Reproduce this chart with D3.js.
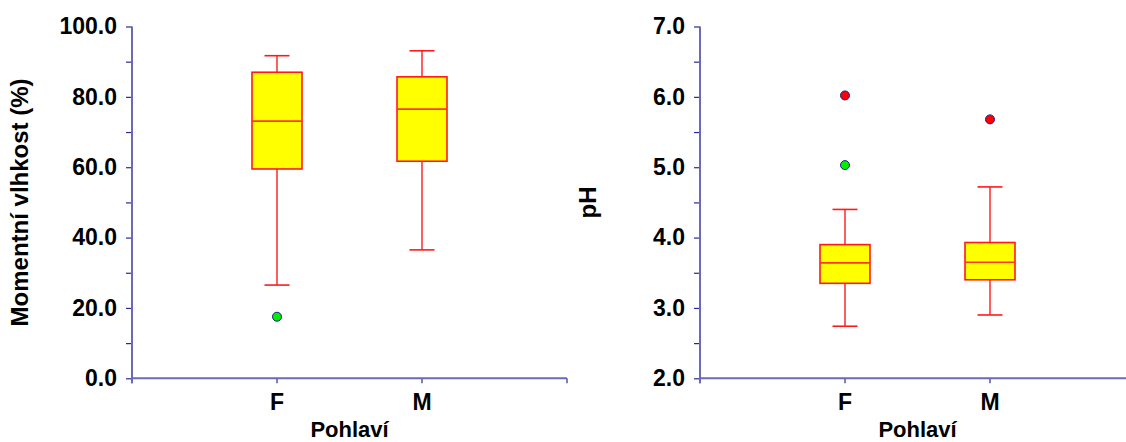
<!DOCTYPE html>
<html>
<head>
<meta charset="utf-8">
<script src="https://cdn.jsdelivr.net/npm/d3@7"></script>
<style>
  html, body { margin: 0; padding: 0; background: #fff; }
  svg { display: block; font-family: "Liberation Sans", Arial, sans-serif; }
</style>
</head>
<body>
<svg id="chart" width="1126" height="442"></svg>
<script>
// Categories shared by both panels
const categories = ["F", "M"];
const xTitle = "Pohlaví";

// Panel 1: Momentní vlhkost (%)
const moistTitle = "Momentní vlhkost (%)";
const moistTicks = [0, 20, 40, 60, 80, 100];
const moistWhiskerLow = [26.5, 36.5];
const moistQ1 = [59.5, 61.7];
const moistMedian = [73.1, 76.5];
const moistQ3 = [87.0, 85.7];
const moistWhiskerHigh = [91.7, 93.1];
const moistOutliers = [
  { cat: "F", value: 17.5, kind: "near" }
];

// Panel 2: pH
const phTitle = "pH";
const phTicks = [2, 3, 4, 5, 6, 7];
const phWhiskerLow = [2.74, 2.90];
const phQ1 = [3.35, 3.40];
const phMedian = [3.64, 3.65];
const phQ3 = [3.90, 3.93];
const phWhiskerHigh = [4.40, 4.72];
const phOutliers = [
  { cat: "F", value: 6.02, kind: "far" },
  { cat: "F", value: 5.03, kind: "near" },
  { cat: "M", value: 5.68, kind: "far" }
];

const svg = d3.select("#chart");
const fmt = d3.format(".1f");
const axisColor = "#6a6ab8";
const tickColor = "#2a2a90";
const boxStroke = "#ff1a1a";
const outlierFill = { near: "#00ee00", far: "#ff0000" };

function drawPanel(cfg) {
  const x = d3.scalePoint().domain(categories).range(cfg.xRange).padding(1);
  const y = d3.scaleLinear().domain(d3.extent(cfg.ticks)).range(cfg.yRange);
  const g = svg.append("g");

  const step = cfg.ticks[1] - cfg.ticks[0];
  const minor = cfg.ticks.slice(0, -1).map(t => t + step / 2);

  // minor ticks
  const yMinor = g.append("g")
    .attr("transform", `translate(${cfg.xRange[0]},0)`)
    .call(d3.axisLeft(y).tickValues(minor).tickSize(6).tickSizeOuter(0).tickFormat(""));
  yMinor.select(".domain").remove();

  // major ticks + labels
  const yAxis = g.append("g")
    .attr("transform", `translate(${cfg.xRange[0]},0)`)
    .call(d3.axisLeft(y).tickValues(cfg.ticks).tickSize(6).tickSizeOuter(0).tickPadding(9).tickFormat(fmt));
  yAxis.select(".domain").remove();
  [yMinor, yAxis].forEach(a => a.selectAll(".tick line").attr("stroke", tickColor).attr("stroke-width", 1.2));
  yAxis.selectAll(".tick text")
    .attr("fill", "#000").attr("font-size", 23).attr("font-weight", "bold")
    .attr("font-family", "'Liberation Sans', Arial, sans-serif");

  // x axis ticks at categories and both ends of the axis
  const xTickVals = [x.range()[0], ...categories.map(c => x(c)), x.range()[1]];
  g.append("g").selectAll("line").data(xTickVals).join("line")
    .attr("x1", d => d).attr("x2", d => d)
    .attr("y1", cfg.yRange[0]).attr("y2", cfg.yRange[0] + 5)
    .attr("stroke", tickColor).attr("stroke-width", 1.2);

  // axis lines
  g.append("line")
    .attr("x1", cfg.xRange[0]).attr("x2", cfg.xRange[0])
    .attr("y1", cfg.yRange[1]).attr("y2", cfg.yRange[0] + 5)
    .attr("stroke", axisColor).attr("stroke-width", 2);
  g.append("line")
    .attr("x1", cfg.xRange[0]).attr("x2", cfg.xRange[1])
    .attr("y1", cfg.yRange[0]).attr("y2", cfg.yRange[0])
    .attr("stroke", axisColor).attr("stroke-width", 2);

  // category labels
  g.append("g").selectAll("text").data(categories).join("text")
    .attr("x", d => x(d)).attr("y", cfg.yRange[0] + 32)
    .attr("text-anchor", "middle").attr("font-size", 23).attr("font-weight", "bold")
    .text(d => d);

  // axis titles
  g.append("text")
    .attr("x", (cfg.xRange[0] + cfg.xRange[1]) / 2).attr("y", cfg.yRange[0] + 59)
    .attr("text-anchor", "middle").attr("font-size", 22).attr("font-weight", "bold")
    .text(xTitle);
  const ym = (cfg.yRange[0] + cfg.yRange[1]) / 2;
  g.append("text")
    .attr("transform", `translate(${cfg.xRange[0] - 104},${ym}) rotate(-90)`)
    .attr("text-anchor", "middle").attr("font-size", 24).attr("font-weight", "bold")
    .text(cfg.title);

  // boxes
  const boxW = 50, capW = 25;
  const stats = categories.map((c, i) => ({
    cat: c, lo: cfg.lo[i], q1: cfg.q1[i], med: cfg.med[i], q3: cfg.q3[i], hi: cfg.hi[i]
  }));
  const b = g.append("g").selectAll("g").data(stats).join("g");
  b.append("line")
    .attr("x1", d => x(d.cat)).attr("x2", d => x(d.cat))
    .attr("y1", d => y(d.lo)).attr("y2", d => y(d.q1))
    .attr("stroke", boxStroke).attr("stroke-width", 1.4);
  b.append("line")
    .attr("x1", d => x(d.cat)).attr("x2", d => x(d.cat))
    .attr("y1", d => y(d.q3)).attr("y2", d => y(d.hi))
    .attr("stroke", boxStroke).attr("stroke-width", 1.4);
  b.append("line")
    .attr("x1", d => x(d.cat) - capW / 2).attr("x2", d => x(d.cat) + capW / 2)
    .attr("y1", d => y(d.lo)).attr("y2", d => y(d.lo))
    .attr("stroke", boxStroke).attr("stroke-width", 1.6);
  b.append("line")
    .attr("x1", d => x(d.cat) - capW / 2).attr("x2", d => x(d.cat) + capW / 2)
    .attr("y1", d => y(d.hi)).attr("y2", d => y(d.hi))
    .attr("stroke", boxStroke).attr("stroke-width", 1.6);
  b.append("rect")
    .attr("x", d => x(d.cat) - boxW / 2).attr("width", boxW)
    .attr("y", d => y(d.q3)).attr("height", d => y(d.q1) - y(d.q3))
    .attr("fill", "#ffff00").attr("stroke", boxStroke).attr("stroke-width", 1.6);
  b.append("line")
    .attr("x1", d => x(d.cat) - boxW / 2).attr("x2", d => x(d.cat) + boxW / 2)
    .attr("y1", d => y(d.med)).attr("y2", d => y(d.med))
    .attr("stroke", "#ff3a00").attr("stroke-width", 1.6);

  // outliers
  g.append("g").selectAll("circle").data(cfg.outliers).join("circle")
    .attr("cx", d => x(d.cat)).attr("cy", d => y(d.value)).attr("r", 4.5)
    .attr("fill", d => outlierFill[d.kind])
    .attr("stroke", "#1c1c8a").attr("stroke-width", 1);
}

drawPanel({
  xRange: [132, 567], yRange: [378.3, 26.5], ticks: moistTicks, title: moistTitle,
  lo: moistWhiskerLow, q1: moistQ1, med: moistMedian, q3: moistQ3, hi: moistWhiskerHigh,
  outliers: moistOutliers
});
drawPanel({
  xRange: [700, 1135], yRange: [378.3, 26.5], ticks: phTicks, title: phTitle,
  lo: phWhiskerLow, q1: phQ1, med: phMedian, q3: phQ3, hi: phWhiskerHigh,
  outliers: phOutliers
});
</script>
</body>
</html>
